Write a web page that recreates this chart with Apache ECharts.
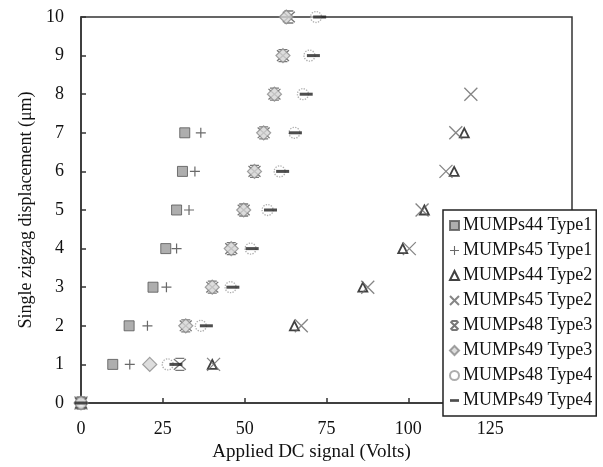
<!DOCTYPE html>
<html>
<head>
<meta charset="utf-8">
<script src="https://cdn.jsdelivr.net/npm/echarts@6/dist/echarts.min.js"></script>
<style>
  html, body { margin: 0; padding: 0; background: #fff; }
  #chart { width: 603px; height: 467px; }
</style>
</head>
<body>
<div id="chart"></div>
<script>
// displacement levels (um), one per point index
const levels = [0, 1, 2, 3, 4, 5, 6, 7, 8, 9, 10];

// applied voltage for each level
const m44Type1 = [0, 9.7, 14.7, 22.0, 25.9, 29.2, 31.0, 31.7];
const m45Type1 = [0, 14.9, 20.3, 26.1, 29.2, 33.0, 34.8, 36.6];
const m44Type2 = [0, 40.1, 65.2, 86.1, 98.3, 104.9, 114.0, 117.1];
const m45Type2 = [0, 40.5, 67.3, 87.6, 100.3, 104.2, 111.5, 114.5, 119.1];
const m48Type3 = [0, 30.2, 32.0, 40.1, 45.9, 49.7, 53.0, 55.8, 59.1, 61.7, 63.5];
const m49Type3 = [0, 21.0, 32.0, 40.1, 45.9, 49.7, 53.0, 55.8, 59.1, 61.7, 62.7];
const m48Type4 = [0, 26.5, 36.6, 45.7, 51.8, 57.0, 60.7, 65.2, 67.8, 69.8, 71.8];
const m49Type4 = [0, 29.0, 38.3, 46.4, 52.3, 57.9, 61.6, 65.5, 68.8, 71.0, 72.9];

const xTicks = [0, 25, 50, 75, 100, 125];

const FONT = 'Liberation Serif';

const pairs = (xs) => xs.map((v, i) => [v, levels[i]]);

const plusPath = 'path://M4.4,0H5.6V4.4H10V5.6H5.6V10H4.4V5.6H0V4.4H4.4Z';
const crossPath = 'path://M0,0L10,10M10,0L0,10';
const starPath = 'path://M1,1L9,9M9,1L1,9M2,0.5H8M2,9.5H8';
const dashPath = 'path://M0,0H10V3H0Z';

const series = [
  {
    name: 'MUMPs44 Type1', data: pairs(m44Type1), symbol: 'rect', symbolSize: 10,
    itemStyle: { color: '#9a9a9a', borderColor: '#555', borderWidth: 1 }
  },
  {
    name: 'MUMPs45 Type1', data: pairs(m45Type1), symbol: plusPath, symbolSize: 10,
    itemStyle: { color: '#444' }
  },
  {
    name: 'MUMPs44 Type2', data: pairs(m44Type2), symbol: 'triangle', symbolSize: 9,
    itemStyle: { color: '#fff', borderColor: '#111', borderWidth: 1.8 }
  },
  {
    name: 'MUMPs45 Type2', data: pairs(m45Type2), symbol: crossPath, symbolSize: 13,
    itemStyle: { color: 'rgba(0,0,0,0)', borderColor: '#666', borderWidth: 1.3 }
  },
  {
    name: 'MUMPs48 Type3', data: pairs(m48Type3), symbol: starPath, symbolSize: 12,
    itemStyle: { color: 'rgba(0,0,0,0)', borderColor: '#555', borderWidth: 1.3 }
  },
  {
    name: 'MUMPs49 Type3', data: pairs(m49Type3), symbol: 'diamond', symbolSize: 14,
    itemStyle: { color: '#d4d4d4', borderColor: '#8a8a8a', borderWidth: 1.2 }
  },
  {
    name: 'MUMPs48 Type4', data: pairs(m48Type4), symbol: 'circle', symbolSize: 11,
    itemStyle: { color: 'rgba(255,255,255,0.6)', borderColor: '#999', borderWidth: 1.3, borderType: 'dotted' }
  },
  {
    name: 'MUMPs49 Type4', data: pairs(m49Type4), symbol: 'rect', symbolSize: [13, 3],
    itemStyle: { color: '#222' }
  }
].map(s => Object.assign({ type: 'scatter', animation: false }, s));

const chart = echarts.init(document.getElementById('chart'));

chart.setOption({
  backgroundColor: '#fff',
  animation: false,
  grid: {
    left: 81, top: 17, width: 491, height: 389,
    show: true, borderColor: '#333', borderWidth: 1.5, backgroundColor: 'transparent'
  },
  xAxis: {
    type: 'value', min: 0, max: 150, interval: 25,
    name: 'Applied DC signal (Volts)', nameLocation: 'middle', nameGap: 40,
    nameTextStyle: { fontFamily: FONT, fontSize: 19, color: '#111', padding: [0, 30, 0, 0] },
    axisLine: { show: true, lineStyle: { color: '#333', width: 1.5 } },
    axisTick: { show: true, inside: true, length: 5, lineStyle: { color: '#333', width: 1.5 } },
    axisLabel: {
      fontFamily: FONT, fontSize: 18, color: '#111', margin: 17,
      formatter: v => (xTicks.indexOf(v) >= 0 ? String(v) : '')
    },
    splitLine: { show: false }
  },
  yAxis: {
    type: 'value', min: 0, max: 10, interval: 1,
    name: 'Single zigzag displacement (\u03bcm)', nameLocation: 'middle', nameGap: 45,
    nameTextStyle: { fontFamily: FONT, fontSize: 18, color: '#111' },
    axisLine: { show: true, lineStyle: { color: '#333', width: 1.5 } },
    axisTick: { show: true, inside: true, length: 5, lineStyle: { color: '#333', width: 1.5 } },
    axisLabel: { fontFamily: FONT, fontSize: 18, color: '#111', margin: 17 },
    splitLine: { show: false }
  },
  legend: {
    orient: 'vertical', left: 443, top: 210,
    backgroundColor: '#fff', borderColor: '#222', borderWidth: 1.5,
    padding: [6, 4, 6, 6], itemGap: 6, itemWidth: 9, itemHeight: 9,
    textStyle: { fontFamily: FONT, fontSize: 18, color: '#111', lineHeight: 19, padding: [0, 0, 0, -1] },
    data: series.map(s => (s.name === 'MUMPs49 Type4' ? { name: s.name, icon: dashPath } : s.name))
  },
  series: series
});
</script>
</body>
</html>
